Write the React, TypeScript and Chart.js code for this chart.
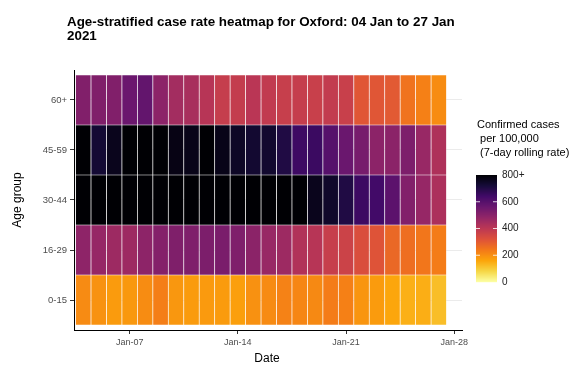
import React, { useEffect, useRef } from 'react';
import { Chart, registerables } from 'chart.js';

Chart.register(...registerables);

const FONT = "'Liberation Sans', Arial, Helvetica, sans-serif";

const TITLE_LINES = ['Age-stratified case rate heatmap for Oxford: 04 Jan to 27 Jan', '2021'];
const X_TITLE = 'Date';
const Y_TITLE = 'Age group';
const LEGEND_TITLE = ['Confirmed cases', ' per 100,000', ' (7-day rolling rate)'];

// bottom to top
const AGE_GROUPS = ['0-15', '16-29', '30-44', '45-59', '60+'];
// day of January 2021
const DAYS = [4, 5, 6, 7, 8, 9, 10, 11, 12, 13, 14, 15, 16, 17, 18, 19, 20, 21, 22, 23, 24, 25, 26, 27];

const X_TICKS = [7, 14, 21, 28];
const X_TICK_LABELS = ['Jan-07', 'Jan-14', 'Jan-21', 'Jan-28'];
const LEGEND_TICKS = [0, 200, 400, 600, 800];
const LEGEND_TICK_LABELS = ['0', '200', '400', '600', '800+'];
const COLOR_MAX = 800;

// confirmed cases per 100,000 (7-day rolling rate)
const rate_0_15 = [206, 194, 178, 184, 205, 230, 185, 178, 180, 178, 171, 195, 207, 222, 215, 210, 233, 226, 188, 178, 158, 142, 146, 120];
const rate_16_29 = [490, 474, 461, 460, 492, 510, 519, 520, 524, 528, 520, 496, 470, 460, 422, 410, 376, 364, 330, 316, 272, 260, 244, 232];
const rate_30_44 = [880, 900, 920, 930, 940, 950, 960, 950, 940, 930, 920, 900, 880, 860, 830, 764, 742, 702, 650, 640, 588, 514, 474, 432];
const rate_45_59 = [820, 728, 764, 810, 820, 815, 776, 770, 805, 770, 748, 732, 735, 702, 648, 652, 600, 560, 535, 494, 496, 523, 470, 427];
const rate_60_plus = [516, 518, 516, 558, 574, 494, 449, 439, 410, 378, 383, 404, 388, 376, 378, 371, 386, 371, 309, 310, 302, 251, 226, 205];

const ROWS = [rate_0_15, rate_16_29, rate_30_44, rate_45_59, rate_60_plus];

const INFERNO = ['#000004', '#160B39', '#420A68', '#6A176E', '#932667', '#BC3754', '#DD513A', '#F37819', '#FCA50A', '#F6D746', '#FCFFA4'];

function hexToRgb(h: string) {
  return [parseInt(h.slice(1, 3), 16), parseInt(h.slice(3, 5), 16), parseInt(h.slice(5, 7), 16)];
}
const INFERNO_RGB = INFERNO.map(hexToRgb);

function inferno(t: number) {
  const c = Math.max(0, Math.min(1, t)) * (INFERNO_RGB.length - 1);
  const i = Math.min(Math.floor(c), INFERNO_RGB.length - 2);
  const f = c - i;
  const a = INFERNO_RGB[i];
  const b = INFERNO_RGB[i + 1];
  const r = Math.round(a[0] + (b[0] - a[0]) * f);
  const g = Math.round(a[1] + (b[1] - a[1]) * f);
  const bl = Math.round(a[2] + (b[2] - a[2]) * f);
  return `rgb(${r},${g},${bl})`;
}

function colorFor(v: number) {
  return inferno(1 - Math.min(v, COLOR_MAX) / COLOR_MAX);
}

const decorPlugin = {
  id: 'decor',
  afterDraw(chart: any) {
    const ctx = chart.ctx;
    const area = chart.chartArea;
    ctx.save();
    // title
    ctx.fillStyle = '#000';
    ctx.font = `bold 13.4px ${FONT}`;
    ctx.textAlign = 'left';
    ctx.textBaseline = 'alphabetic';
    ctx.fillText(TITLE_LINES[0], 67, 26);
    ctx.fillText(TITLE_LINES[1], 67, 40);

    // axis titles
    ctx.font = `12px ${FONT}`;
    ctx.textAlign = 'center';
    ctx.textBaseline = 'middle';
    ctx.fillText(X_TITLE, 267, 359);
    ctx.save();
    ctx.translate(18, (area.top + area.bottom) / 2);
    ctx.rotate(-Math.PI / 2);
    ctx.fillText(Y_TITLE, 0, 0);
    ctx.restore();

    // legend title
    ctx.font = `11px ${FONT}`;
    ctx.textAlign = 'left';
    ctx.fillStyle = '#000';
    LEGEND_TITLE.forEach((line, i) => ctx.fillText(line, 477, 125 + i * 14));

    // colour bar
    const bx = 476, bw = 21, btop = 175, bbot = 282;
    const h = bbot - btop;
    for (let i = 0; i < h; i++) {
      const v = ((h - i - 0.5) / h) * COLOR_MAX;
      ctx.fillStyle = colorFor(v);
      ctx.fillRect(bx, btop + i, bw, 1.2);
    }
    ctx.strokeStyle = 'rgba(255,255,255,0.8)';
    ctx.lineWidth = 1;
    ctx.font = `10px ${FONT}`;
    ctx.fillStyle = '#222';
    LEGEND_TICKS.forEach((v, i) => {
      const y = bbot - (v / COLOR_MAX) * h;
      if (v > 0 && v < COLOR_MAX) {
        ctx.beginPath();
        ctx.moveTo(bx, y); ctx.lineTo(bx + 4, y);
        ctx.moveTo(bx + bw - 4, y); ctx.lineTo(bx + bw, y);
        ctx.stroke();
      }
      ctx.fillText(LEGEND_TICK_LABELS[i], 502, y);
    });
    ctx.restore();
  },
};

export default function App() {
  const ref = useRef<HTMLCanvasElement>(null);

  useEffect(() => {
    const canvas = ref.current;
    if (!canvas) return;
    const datasets = ROWS.map((vals, r) => ({
      label: AGE_GROUPS[r],
      data: DAYS.map((d) => ({ x: d, y: [r - 0.5, r + 0.5] })),
      backgroundColor: vals.map(colorFor),
      borderColor: 'rgba(255,255,255,0.3)',
      borderWidth: 0.7,
      borderSkipped: false,
      grouped: false,
      barPercentage: 1,
      categoryPercentage: 1,
    }));

    const chart = new Chart(canvas, {
      type: 'bar',
      data: { datasets } as any,
      options: {
        animation: false,
        responsive: false,
        events: [],
        layout: { padding: { top: 70, right: 119, bottom: 0, left: 0 } },
        plugins: {
          legend: { display: false },
          tooltip: { enabled: false },
          title: { display: false },
        },
        scales: {
          x: {
            type: 'linear',
            offset: false,
            min: 3.4,
            max: 28.5,
            afterBuildTicks: (s: any) => {
              s.ticks = X_TICKS.map((v) => ({ value: v }));
            },
            afterFit: (s: any) => {
              s.height = 42;
            },
            ticks: {
              callback: (v: any) => X_TICK_LABELS[X_TICKS.indexOf(Number(v))],
              font: { family: FONT, size: 9 },
              color: '#4d4d4d',
              maxRotation: 0,
              autoSkip: false,
              padding: 3,
            },
            grid: { offset: false, drawOnChartArea: false, tickLength: 4, tickColor: '#333', color: '#333' },
            border: { display: true, color: '#000', width: 1 },
          },
          y: {
            type: 'linear',
            offset: false,
            min: -0.6,
            max: 4.6,
            afterBuildTicks: (s: any) => {
              s.ticks = AGE_GROUPS.map((_, i) => ({ value: i }));
            },
            afterFit: (s: any) => {
              s.width = 74;
            },
            ticks: {
              callback: (v: any) => AGE_GROUPS[Number(v)],
              font: { family: FONT, size: 9.5 },
              color: '#4d4d4d',
              autoSkip: false,
              padding: 3,
            },
            grid: { offset: false, drawOnChartArea: true, color: '#ebebeb', tickLength: 4, tickColor: '#333' },
            border: { display: true, color: '#000', width: 1 },
          },
        },
      } as any,
      plugins: [decorPlugin],
    });
    return () => chart.destroy();
  }, []);

  return (
    <div style={{ position: 'absolute', left: 0, top: 0, width: 581, height: 372, background: '#fff' }}>
      <canvas ref={ref} width={581} height={372} style={{ display: 'block' }} />
    </div>
  );
}
